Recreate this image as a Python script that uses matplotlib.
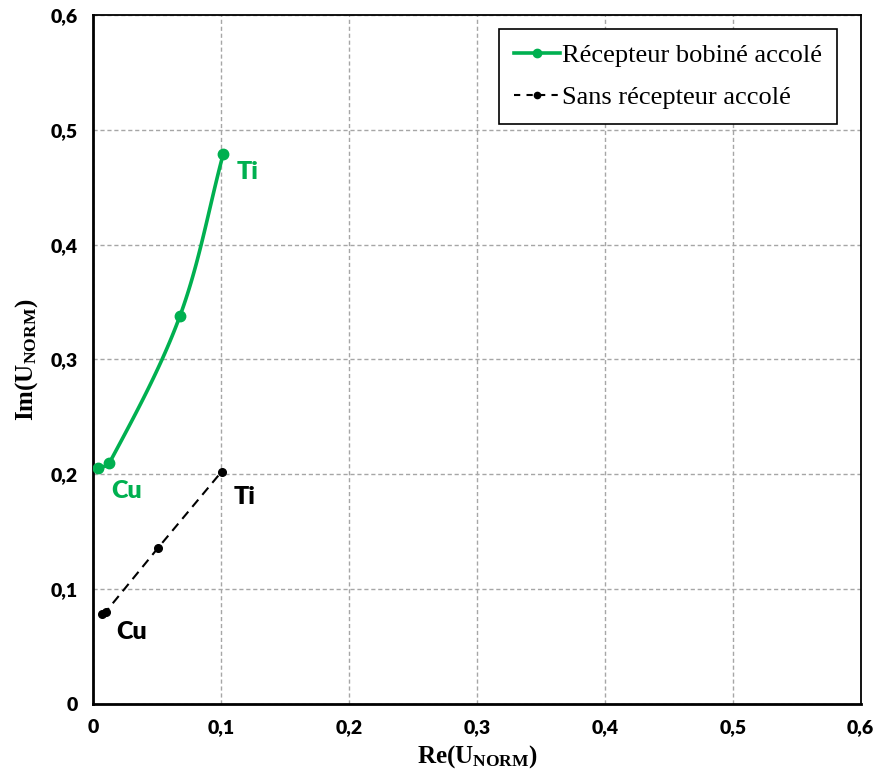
import numpy as np
import matplotlib
matplotlib.use("Agg")
import matplotlib.pyplot as plt
from matplotlib.ticker import FuncFormatter, MultipleLocator

# ---- data ----
green_x = [0.0039, 0.0125, 0.0678, 0.1016]
green_y = [0.2053, 0.2097, 0.338, 0.479]
black_x = [0.0066, 0.0099, 0.0504, 0.1004]
black_y = [0.0784, 0.0804, 0.1356, 0.2024]
green_label = "Récepteur bobiné accolé"
black_label = "Sans récepteur accolé"

GREEN = "#00B050"

plt.rcParams['mathtext.fontset'] = 'custom'
plt.rcParams['mathtext.bf'] = 'Liberation Serif:bold'
plt.rcParams['mathtext.rm'] = 'Liberation Serif:bold'


def smooth(xs, ys, yscale=0.898, n=30):
    # Bezier smoothing with tangents limited to a third of each segment
    P = np.column_stack([np.asarray(xs, float), np.asarray(ys, float) * yscale])
    m = len(P)
    T = np.zeros_like(P)
    for i in range(m):
        a = P[max(i - 1, 0)]
        b = P[min(i + 1, m - 1)]
        d = b - a
        T[i] = d / np.linalg.norm(d)
    out = []
    for i in range(m - 1):
        p1, p2 = P[i], P[i + 1]
        L = np.linalg.norm(p2 - p1)
        c1 = p1 + T[i] * L / 3
        c2 = p2 - T[i + 1] * L / 3
        t = np.linspace(0, 1, n)[:, None]
        seg = ((1 - t) ** 3) * p1 + 3 * ((1 - t) ** 2) * t * c1 + 3 * (1 - t) * t ** 2 * c2 + t ** 3 * p2
        out.append(seg if i == 0 else seg[1:])
    S = np.vstack(out)
    return S[:, 0], S[:, 1] / yscale


fig = plt.figure(figsize=(8.75, 7.76), dpi=100)
ax = fig.add_axes([0.1066, 0.0928, 0.8771, 0.8879])

ax.set_xlim(0, 0.6)
ax.set_ylim(0, 0.6)
ax.xaxis.set_major_locator(MultipleLocator(0.1))
ax.yaxis.set_major_locator(MultipleLocator(0.1))
fmt = FuncFormatter(lambda v, p: "0" if abs(v) < 1e-9 else f"{v:.1f}".replace(".", ","))
ax.xaxis.set_major_formatter(fmt)
ax.yaxis.set_major_formatter(fmt)
ax.grid(True, color="#a6a6a6", linestyle=(0, (3, 2)), linewidth=1.0)
ax.set_axisbelow(True)
for s in ax.spines.values():
    s.set_color("black")
    s.set_linewidth(1.3)
ax.spines['left'].set_linewidth(2.0)
ax.spines['bottom'].set_linewidth(2.0)

ax.tick_params(length=0, pad=11)
for lab in ax.get_xticklabels() + ax.get_yticklabels():
    lab.set_fontfamily("Lato")
    lab.set_fontweight("heavy")
    lab.set_fontsize(14)

# green smoothed curve
sx, sy = smooth(green_x, green_y)
ax.plot(sx, sy, color=GREEN, lw=2.6, solid_capstyle='round', zorder=3)
ax.plot(green_x, green_y, 'o', color=GREEN, ms=7.5, zorder=4)
h1, = ax.plot([], [], '-o', color=GREEN, lw=2.6, ms=6, label=green_label)

ax.plot(black_x, black_y, color="black", lw=1.5, linestyle=(0, (4.5, 3)), zorder=3)
ax.plot(black_x, black_y, 'o', color="black", ms=5.5, zorder=4)
h2, = ax.plot([], [], 'o', color="black", lw=1.5, ms=4.5, linestyle=(0, (3, 3)), label=black_label)

tfont = dict(family="Lato", fontweight="heavy", fontsize=18)
ax.annotate("Ti", xy=(green_x[-1], green_y[-1]), xytext=(24, -18), textcoords="offset pixels",
            ha="center", va="center", color=GREEN, **tfont)
ax.annotate("Cu", xy=(green_x[0], green_y[0]), xytext=(28, -23), textcoords="offset pixels",
            ha="center", va="center", color=GREEN, **tfont)
ax.annotate("Ti", xy=(black_x[-1], black_y[-1]), xytext=(23, -25), textcoords="offset pixels",
            ha="center", va="center", color="black", **tfont)
ax.annotate("Cu", xy=(black_x[0], black_y[0]), xytext=(30, -18), textcoords="offset pixels",
            ha="center", va="center", color="black", **tfont)

leg = ax.legend(handles=[h1, h2], loc="upper right", bbox_to_anchor=(0.969, 0.98),
                borderaxespad=0, prop=dict(family="Liberation Serif", size=19),
                frameon=True, fancybox=False, edgecolor="black", framealpha=1,
                handlelength=1.75, handletextpad=0.1, labelspacing=0.72, borderpad=0.55)
leg.get_frame().set_linewidth(1.2)

ax.set_xlabel(r"$\mathbf{Re(U_{NORM})}$", fontsize=18, labelpad=5)
ax.set_ylabel(r"$\mathbf{Im(U_{NORM})}$", fontsize=18, labelpad=8)

fig.savefig("out.png", dpi=100)
